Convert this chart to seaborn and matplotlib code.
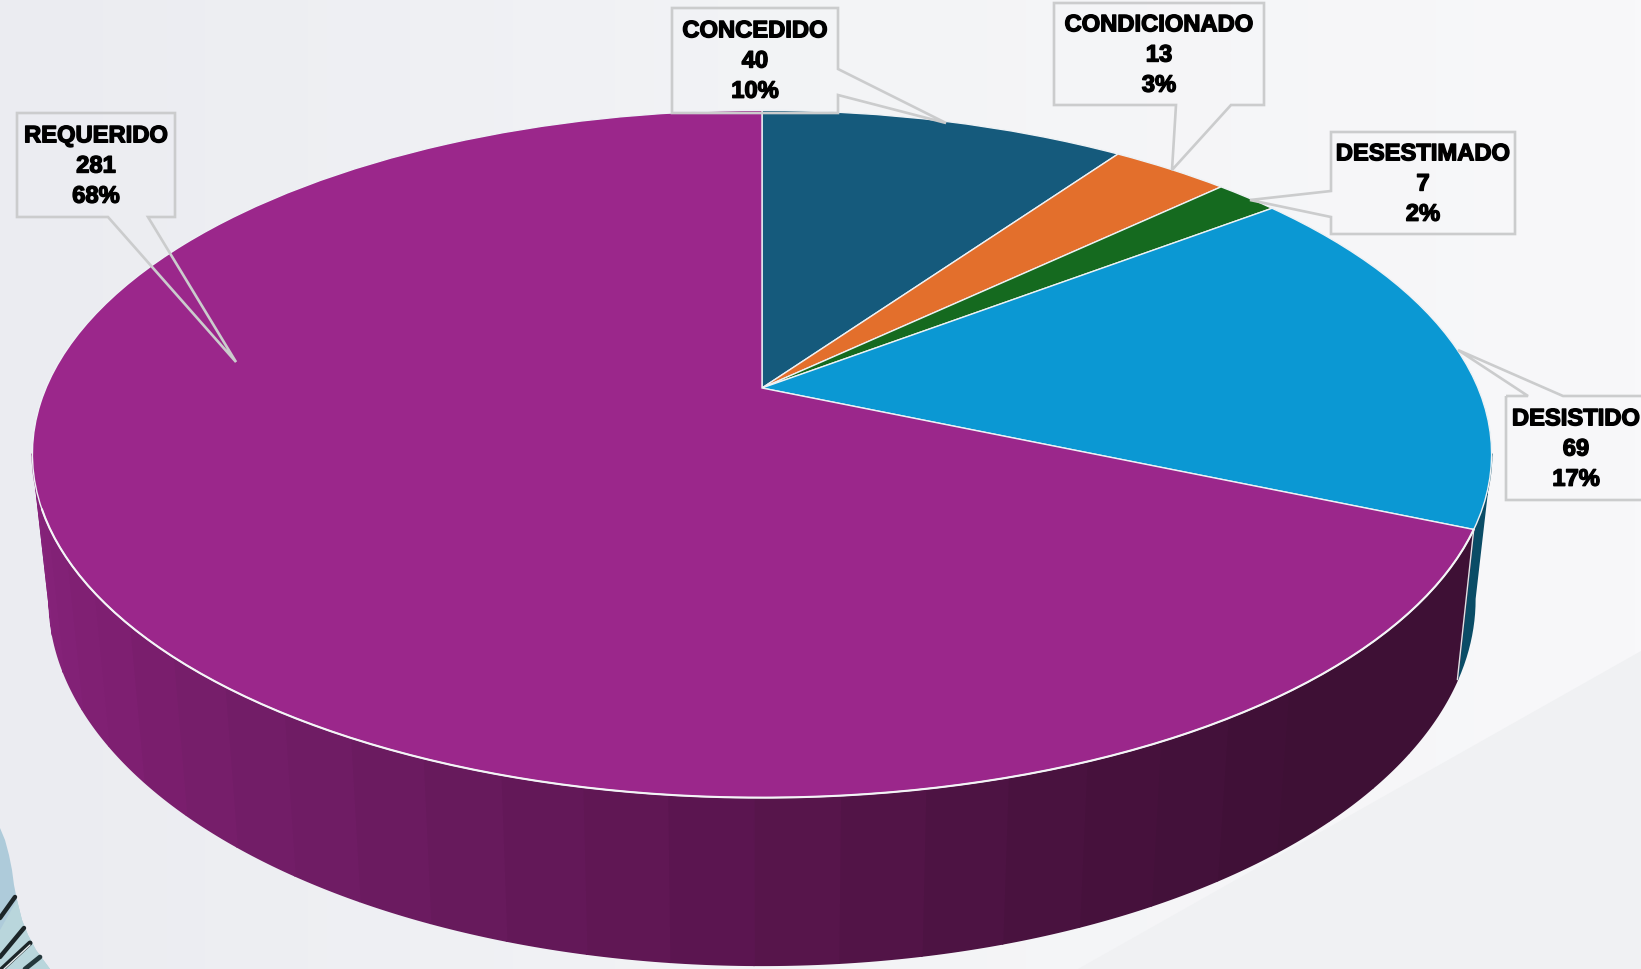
import numpy as np
import matplotlib
matplotlib.use("Agg")
import matplotlib.pyplot as plt
import matplotlib.patheffects as pe
import matplotlib.transforms as mtransforms
from matplotlib.patches import Polygon
import seaborn as sns

W, H = 1641, 969

# data
categories = ["CONCEDIDO", "CONDICIONADO", "DESESTIMADO", "DESISTIDO", "REQUERIDO"]
counts = [40, 13, 7, 69, 281]
percents = [10, 3, 2, 17, 68]

slice_colors = ["#155a7c", "#e36f2c", "#156a1f", "#0b98d3", "#9b278b"]
wall_stops = ["#3e1035", "#3e1035", "#4a1240", "#5e1652", "#6d1c63", "#7d1f70", "#86237b"]
blue_wall = "#0a4c66"

# label box outlines and text centres, in pixels
boxes = {
    "CONCEDIDO": [(672, 8), (838, 8), (838, 69), (946, 123), (838, 95), (838, 113), (672, 113)],
    "CONDICIONADO": [(1054, 3), (1264, 3), (1264, 105), (1231, 105), (1172, 170), (1176, 105), (1054, 105)],
    "DESESTIMADO": [(1331, 132), (1515, 132), (1515, 234), (1331, 234), (1331, 217), (1250, 200), (1331, 191)],
    "DESISTIDO": [(1506, 396), (1528, 396), (1458, 350), (1563, 396), (1650, 396), (1650, 500), (1506, 500)],
    "REQUERIDO": [(17, 113), (175, 113), (175, 217), (148, 217), (236, 362), (108, 217), (17, 217)],
}
label_pos = {
    "CONCEDIDO": (755, 61),
    "CONDICIONADO": (1159, 55),
    "DESESTIMADO": (1423, 184),
    "DESISTIDO": (1576, 449),
    "REQUERIDO": (96, 166),
}


class TiltedDisc(mtransforms.Transform):
    """Unit circle seen in perspective, output in pixels."""
    input_dims = 2
    output_dims = 2
    is_separable = False

    def __init__(self, cx, cy, a, b, c):
        super().__init__()
        self.cx, self.cy, self.a, self.b, self.c = cx, cy, a, b, c

    def transform_non_affine(self, values):
        values = np.asarray(values, dtype=float)
        w = 1 + self.c * values[:, 1]
        return np.column_stack([self.cx + self.b * values[:, 0] / w,
                                self.cy - self.a * values[:, 1] / w])


def rim(disc, start, stop, base=False, n=12):
    # points of the rim between two clockwise angles, lower edge if base is set
    t = np.radians(np.linspace(start, stop, n))
    pts = disc.transform_non_affine(np.column_stack([np.sin(t), np.cos(t)]))
    if base:
        pts[:, 0] = 762 + 0.977 * (pts[:, 0] - 762)
        pts[:, 1] = 529 + 1.065 * (pts[:, 1] - 388)
    return pts


def draw_wall(ax, disc, start, stop, color):
    pts = np.vstack([rim(disc, start, stop), rim(disc, start, stop, base=True)[::-1]])
    ax.add_patch(Polygon(pts, closed=True, facecolor=color, edgecolor=color, lw=1.2, zorder=1))


sns.set_theme(style="white")
plt.rcParams['font.family'] = ['Liberation Sans', 'DejaVu Sans']

fig = plt.figure(figsize=(W / 100, H / 100), dpi=100)
ax = fig.add_axes([0, 0, 1, 1])

disc = TiltedDisc(762, 388, 331, 716, 0.192)

wedges, _ = ax.pie(counts, colors=sns.color_palette(slice_colors), startangle=90, counterclock=False,
                   wedgeprops={"edgecolor": "#eef2f5", "linewidth": 1.0, "zorder": 2})
for w in wedges:
    w.set_transform(disc + ax.transData)

# background
gradient = np.linspace(0, 1, 256).reshape(1, -1)
bg_cmap = sns.blend_palette(["#ebecf1", "#f3f4f6", "#f8f8fa"], as_cmap=True)
ax.imshow(gradient, extent=(0, W, H, 0), aspect='auto', cmap=bg_cmap, zorder=0)
ax.fill([1641, 1641, 1078], [651, 969, 969], color="#f0f1f3", lw=0, zorder=0.1)

# blob in the lower left corner
ax.fill([0, 5, 9, 12, 14, 17, 22, 28, 36, 50, 0],
        [828, 840, 855, 870, 885, 900, 920, 935, 950, 969, 969],
        color="#aecbda", lw=0, zorder=0.2)
ax.fill([0, 17, 22, 28, 36, 50, 0], [930, 900, 920, 935, 950, 969, 969], color="#b9d6dc", lw=0, zorder=0.3)
ax.plot([0, 15], [918, 897], color="#1c2528", lw=3.2, zorder=0.4)
ax.plot([0, 24], [957, 928], color="#1c2528", lw=3.2, zorder=0.4)
ax.plot([2, 30], [969, 943], color="#1c2528", lw=3.6, zorder=0.4)
ax.plot([4, 30], [969, 945], color="#e8eef0", lw=1.0, zorder=0.45)
ax.plot([25, 40], [969, 957], color="#24383c", lw=3.4, zorder=0.4)

# side wall, angles follow the slices
ends = np.cumsum(counts) / np.sum(counts) * 360
wall_start = ends[3]
wall_stop = 259
n_strips = 26
edges = np.linspace(wall_start, wall_stop, n_strips + 1)
strip_colors = sns.blend_palette(wall_stops, n_strips)
draw_wall(ax, disc, 101, wall_start, blue_wall)
for i in range(n_strips):
    draw_wall(ax, disc, edges[i], edges[i + 1], strip_colors[i])
ax.plot(*np.array([rim(disc, wall_start, wall_start)[0],
                   rim(disc, wall_start, wall_start, base=True)[0]]).T,
        color="#dfe3e6", lw=1.0, zorder=1.5)

# white line along the front of the top face
front = rim(disc, wall_start, 250, n=90)
ax.plot(front[:, 0], front[:, 1], color="#f4f5f7", lw=1.5, zorder=2.5)

# callouts
for name, count, pct in zip(categories, counts, percents):
    ax.add_patch(Polygon(boxes[name], closed=True, fill=False, edgecolor="#cbcccd", lw=1.9, zorder=3))
    x, y = label_pos[name]
    ax.text(x, y, f"{name}\n{count}\n{pct}%", ha='center', va='center', fontsize=17.1, fontweight='bold',
            linespacing=1.4, color="black", zorder=4,
            path_effects=[pe.withStroke(linewidth=1.0, foreground="black")])

ax.set_aspect('auto')
ax.set_xlim(0, W)
ax.set_ylim(H, 0)
ax.axis('off')

fig.savefig("out.png", dpi=100)
